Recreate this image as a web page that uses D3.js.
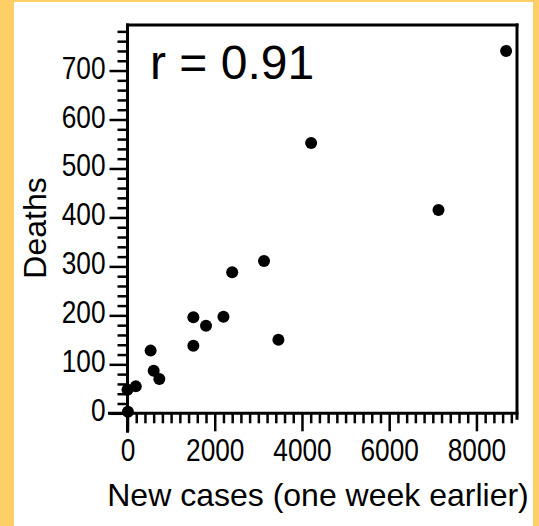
<!DOCTYPE html>
<html>
<head>
<meta charset="utf-8">
<script src="https://cdn.jsdelivr.net/npm/d3@7"></script>
<style>
  html, body { margin: 0; padding: 0; background: #FFCF66; }
  svg { display: block; }
  text { font-family: "Liberation Sans", Arial, Helvetica, sans-serif; fill: #000; }
</style>
</head>
<body>
<svg id="chart" width="539" height="526"></svg>
<script>
// Data
const newCases = [8680, 4210, 7130, 3130, 2400, 1510, 1800, 2200, 1510, 3460, 530, 600, 730, 190, 0, 10];
const deaths   = [740, 552, 415, 311, 288, 196, 179, 197, 138, 150, 128, 87, 70, 55, 48, 3];
const xTickLabels = [0, 2000, 4000, 6000, 8000];
const yTickLabels = [0, 100, 200, 300, 400, 500, 600, 700];
const xMinorTicks = d3.range(0, 8801, 200);
const yMinorTicks = d3.range(0, 781, 20);
const xTitle = "New cases (one week earlier)";
const yTitle = "Deaths";
const annotation = "r = 0.91";

const svg = d3.select("#chart");
svg.append("rect").attr("x", 0).attr("y", 0).attr("width", 539).attr("height", 526).attr("fill", "#FFCF66");
svg.append("rect").attr("x", 14).attr("y", 2).attr("width", 519).attr("height", 524).attr("fill", "#fff");

const x = d3.scaleLinear().domain([0, 8930]).range([127.5, 517]);
const y = d3.scaleLinear().domain([0, 793]).range([413.3, 25]);

const majorLen = 18, minorLen = 10;
const fmt = d3.format("d");
const digitW = 14.6;

// X axis ticks
const gx = svg.append("g").attr("transform", `translate(0,${y(0)})`);
gx.call(d3.axisBottom(x).tickValues(xMinorTicks.filter(v => v % 2000 !== 0)).tickSize(minorLen).tickSizeOuter(0).tickFormat(""));
gx.select(".domain").remove();
const gx2 = svg.append("g").attr("transform", `translate(0,${y(0)})`);
gx2.call(d3.axisBottom(x).tickValues(xTickLabels).tickSize(majorLen).tickSizeOuter(0).tickFormat(fmt));
gx2.select(".domain").remove();
gx2.selectAll("text")
  .attr("font-size", 32).attr("y", 48).attr("dy", null)
  .attr("textLength", d => fmt(d).length * digitW).attr("lengthAdjust", "spacingAndGlyphs");

// Y axis ticks
const gy = svg.append("g").attr("transform", `translate(${x(0)},0)`);
gy.call(d3.axisLeft(y).tickValues(yMinorTicks.filter(v => v % 100 !== 0)).tickSize(minorLen).tickSizeOuter(0).tickFormat(""));
gy.select(".domain").remove();
const gy2 = svg.append("g").attr("transform", `translate(${x(0)},0)`);
gy2.call(d3.axisLeft(y).tickValues(yTickLabels).tickSize(majorLen).tickSizeOuter(0).tickFormat(fmt));
gy2.select(".domain").remove();
gy2.selectAll("text")
  .attr("font-size", 32).attr("x", -22).attr("dy", null).attr("y", 7.5)
  .attr("textLength", d => fmt(d).length * digitW).attr("lengthAdjust", "spacingAndGlyphs");

svg.selectAll(".tick line").attr("stroke", "#000").attr("stroke-width", 2.5);
svg.selectAll(".tick text").attr("fill", "#1a1a1a");

// Frame / axis lines
const lines = [
  [x(0) - majorLen, y(0), x.range()[1], y(0)],          // x axis (extended left)
  [x(0), y(0) + majorLen, x(0), y.range()[1]],          // y axis (extended down)
  [x(0), y.range()[1], x.range()[1], y.range()[1]],     // top frame
  [x.range()[1], y.range()[1], x.range()[1], y(0) + 5]  // right frame
];
svg.append("g").selectAll("line").data(lines).join("line")
  .attr("x1", d => d[0]).attr("y1", d => d[1]).attr("x2", d => d[2]).attr("y2", d => d[3])
  .attr("stroke", "#000").attr("stroke-width", 3).attr("stroke-linecap", "square");

// Points
svg.append("g").selectAll("circle").data(newCases.map((v, i) => [v, deaths[i]])).join("circle")
  .attr("cx", d => x(d[0])).attr("cy", d => y(d[1])).attr("r", 6).attr("fill", "#000");

// Annotation
svg.append("text").attr("x", 150).attr("y", 79).attr("font-size", 48).text(annotation);

// Titles
svg.append("text").attr("x", 318).attr("y", 506).attr("text-anchor", "middle").attr("font-size", 32).text(xTitle);
svg.append("text").attr("transform", "translate(46,228) rotate(-90)").attr("text-anchor", "middle").attr("font-size", 32).text(yTitle);
</script>
</body>
</html>
